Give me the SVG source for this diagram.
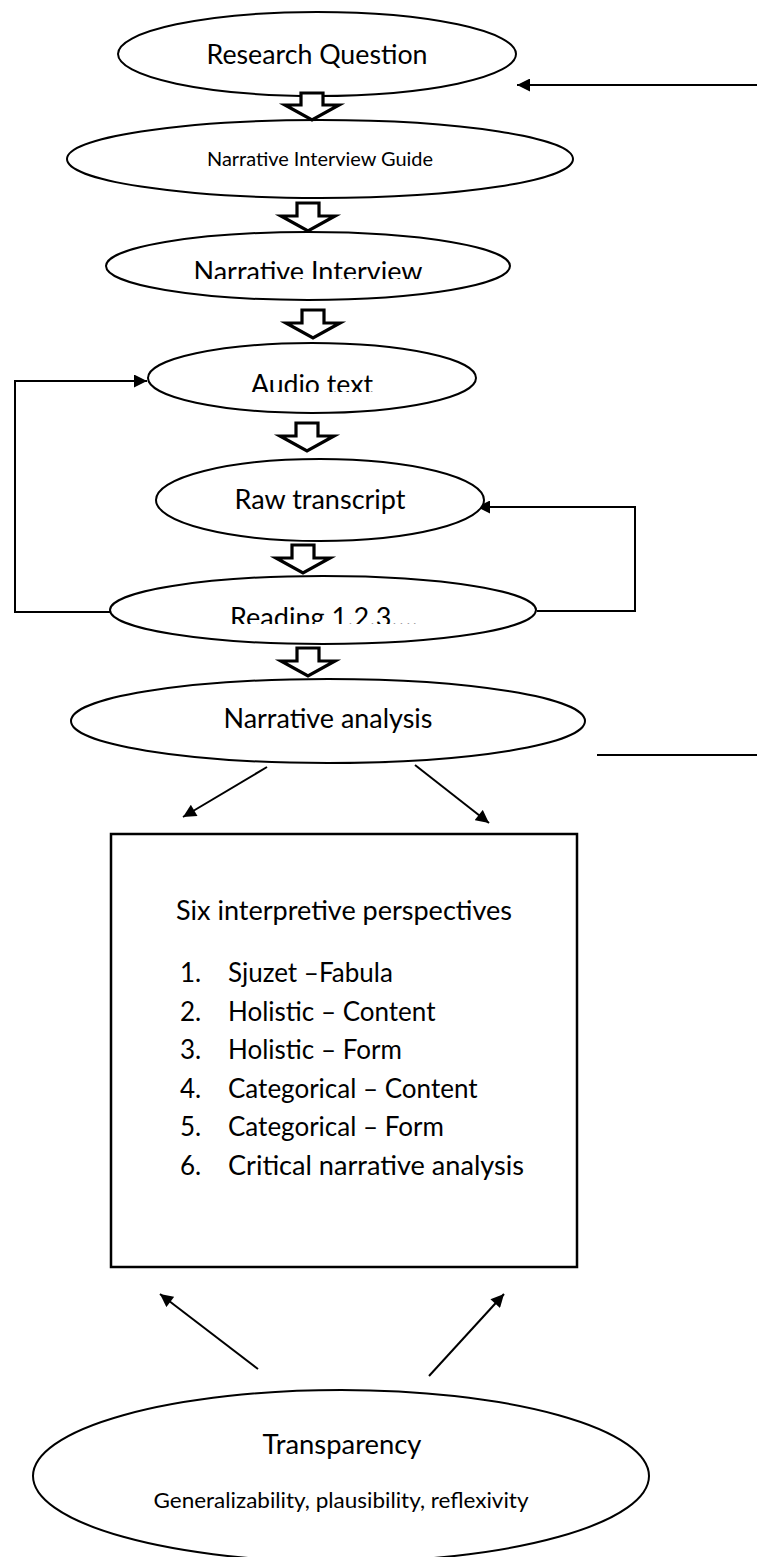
<svg xmlns="http://www.w3.org/2000/svg" width="757" height="1557" viewBox="0 0 757 1557">
<style>
.node{fill:#fff;stroke:#000;stroke-width:2}
.blk{fill:#fff;stroke:#000;stroke-width:3.2;stroke-linejoin:miter}
.t{font-family:Lato,"Open Sans","Liberation Sans",sans-serif;font-size:26px;fill:#000;text-anchor:middle}
.l{font-family:Lato,"Open Sans","Liberation Sans",sans-serif;font-size:26px;fill:#000}
.s{font-family:Lato,"Open Sans","Liberation Sans",sans-serif;font-size:20.5px;fill:#000;text-anchor:middle}
.c{fill:none;stroke:#000;stroke-width:2}
</style>
<defs>
<marker id="ah" viewBox="0 0 12 12" refX="12" refY="6" markerWidth="14" markerHeight="13" markerUnits="userSpaceOnUse" orient="auto">
<path d="M0,0 L12,6 L0,12 z" fill="#000"/>
</marker>
<clipPath id="cNI"><rect x="0" y="0" width="757" height="279"/></clipPath>
<clipPath id="cAT"><rect x="0" y="0" width="757" height="392"/></clipPath>
<clipPath id="cRD"><rect x="0" y="0" width="757" height="624"/></clipPath>
</defs>
<rect width="757" height="1557" fill="#fff"/>

<g id="connectors">
<line class="c" x1="757" y1="85" x2="517" y2="85" marker-end="url(#ah)"/>
<line class="c" x1="597" y1="755" x2="757" y2="755"/>
<path class="c" d="M110,612 H15 V381 H147" marker-end="url(#ah)"/>
<path class="c" d="M537,611 H635 V507 H477" marker-end="url(#ah)"/>
<line class="c" x1="267" y1="767" x2="183" y2="817" marker-end="url(#ah)"/>
<line class="c" x1="415" y1="765" x2="489" y2="823" marker-end="url(#ah)"/>
<line class="c" x1="258" y1="1369" x2="160" y2="1294" marker-end="url(#ah)"/>
<line class="c" x1="429" y1="1376" x2="504" y2="1294" marker-end="url(#ah)"/>
</g>

<g id="n-research">
<ellipse class="node" cx="317" cy="54" rx="199" ry="42"/>
<text class="t" x="317" y="64" textLength="221" lengthAdjust="spacingAndGlyphs">Research Question</text>
</g>
<g id="n-guide">
<ellipse class="node" cx="320" cy="159" rx="253" ry="39"/>
<text class="t" style="font-size:19.5px" x="320" y="166" textLength="226" lengthAdjust="spacingAndGlyphs">Narrative Interview Guide</text>
</g>
<g id="n-interview">
<ellipse class="node" cx="308" cy="266" rx="202" ry="34"/>
<text class="t" x="308" y="281" clip-path="url(#cNI)" textLength="229" lengthAdjust="spacingAndGlyphs">Narrative Interview</text>
</g>
<g id="n-audio">
<ellipse class="node" cx="312" cy="378" rx="164" ry="35"/>
<text class="t" x="312" y="394" clip-path="url(#cAT)" textLength="122" lengthAdjust="spacingAndGlyphs">Audio text</text>
</g>
<g id="n-raw">
<ellipse class="node" cx="320" cy="500" rx="164" ry="41"/>
<text class="t" x="320" y="509" textLength="171" lengthAdjust="spacingAndGlyphs">Raw transcript</text>
</g>
<g id="n-reading">
<ellipse class="node" cx="323" cy="610" rx="213" ry="34"/>
<text class="t" x="324" y="627" clip-path="url(#cRD)" textLength="188" lengthAdjust="spacingAndGlyphs">Reading 1.2.3….</text>
</g>
<g id="n-analysis">
<ellipse class="node" cx="328" cy="721" rx="257" ry="42"/>
<text class="t" x="328" y="728" textLength="209" lengthAdjust="spacingAndGlyphs">Narrative analysis</text>
</g>

<g id="block-arrows">
<path class="blk" d="M301,93 H323 V105 H339 L312,120 L285,105 H301 Z"/>
<path class="blk" d="M297,203 H319 V216 H335 L308,231 L281,216 H297 Z"/>
<path class="blk" d="M302,310 H324 V323 H340 L313,338 L286,323 H302 Z"/>
<path class="blk" d="M296,423 H318 V436 H334 L307,451 L280,436 H296 Z"/>
<path class="blk" d="M292,545 H314 V558 H330 L303,573 L276,558 H292 Z"/>
<path class="blk" d="M297,648 H319 V661 H335 L308,676 L281,661 H297 Z"/>
</g>

<g id="n-perspectives">
<rect x="111" y="834" width="466" height="433" fill="#fff" stroke="#000" stroke-width="2.5"/>
<text class="t" x="344" y="920" textLength="336" lengthAdjust="spacingAndGlyphs">Six interpretive perspectives</text>
<text class="l" x="180" y="982">1.</text><text class="l" x="228" y="982">Sjuzet –Fabula</text>
<text class="l" x="180" y="1020.5">2.</text><text class="l" x="228" y="1020.5">Holistic – Content</text>
<text class="l" x="180" y="1059">3.</text><text class="l" x="228" y="1059">Holistic – Form</text>
<text class="l" x="180" y="1097.5">4.</text><text class="l" x="228" y="1097.5">Categorical – Content</text>
<text class="l" x="180" y="1136">5.</text><text class="l" x="228" y="1136">Categorical – Form</text>
<text class="l" x="180" y="1174.5">6.</text><text class="l" x="228" y="1174.5" textLength="296" lengthAdjust="spacingAndGlyphs">Critical narrative analysis</text>
</g>

<g id="n-transparency">
<ellipse class="node" cx="341" cy="1476" rx="308" ry="86"/>
<text class="t" x="342" y="1454" textLength="159" lengthAdjust="spacingAndGlyphs">Transparency</text>
<text class="s" x="341" y="1508" textLength="375" lengthAdjust="spacingAndGlyphs">Generalizability, plausibility, reflexivity</text>
</g>
</svg>
